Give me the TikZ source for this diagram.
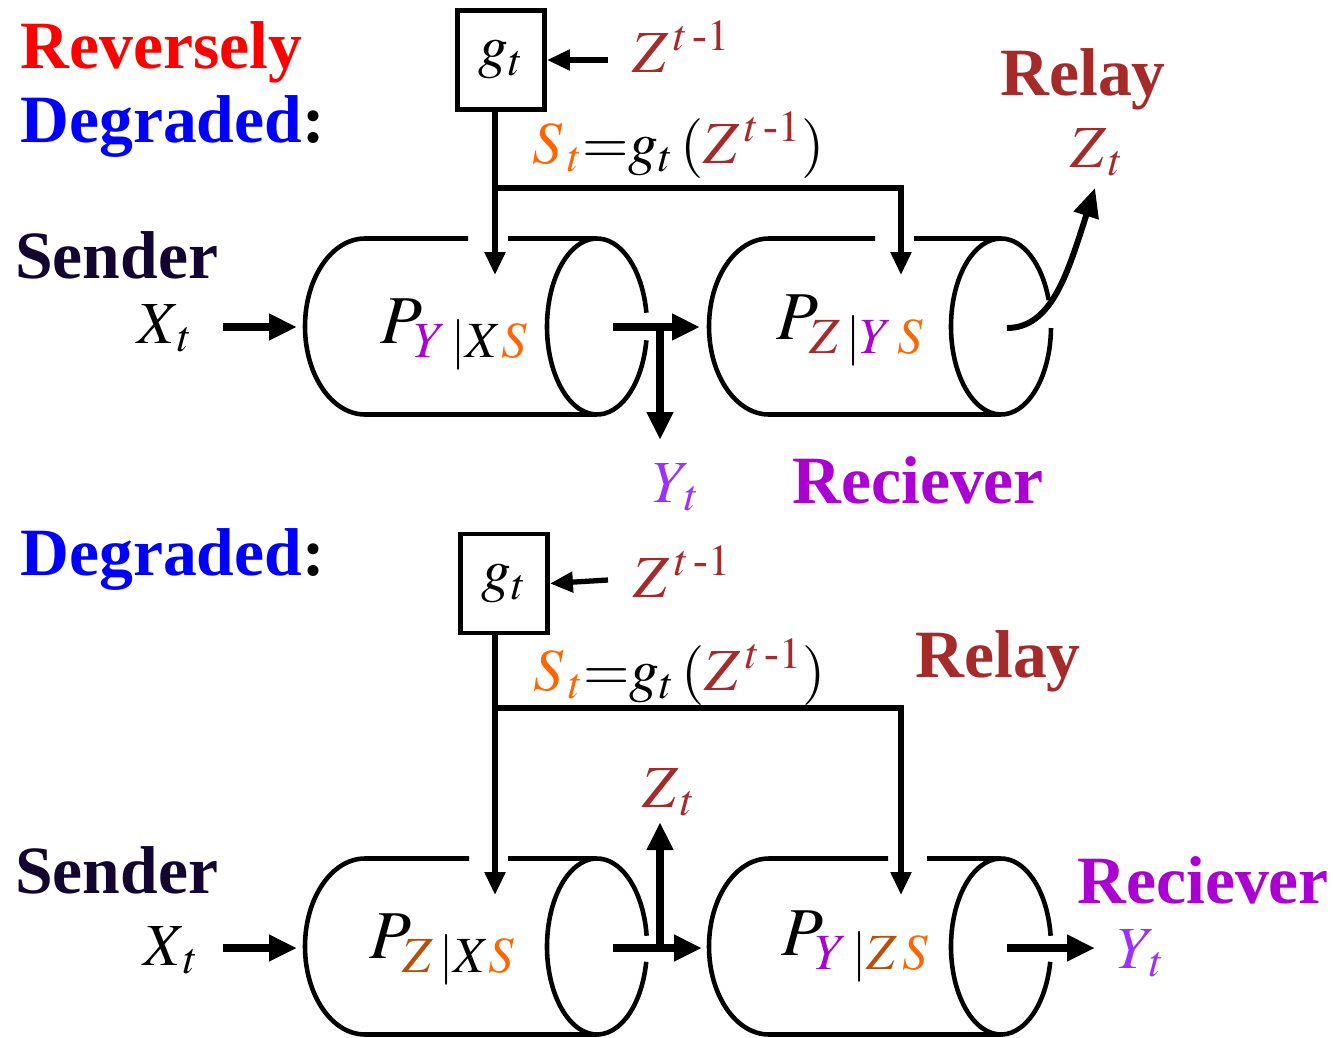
\documentclass[tikz,border=0pt]{standalone}
\usepackage{amsmath}
\usepackage{mathptmx}
\usepackage{fontspec}
\setmainfont{Liberation Serif}
\usepackage{tikz}
\usetikzlibrary{arrows.meta}
\definecolor{degBlue}{RGB}{0,0,255}
\definecolor{relayRed}{RGB}{165,42,42}
\definecolor{recvPurple}{RGB}{170,0,210}
\definecolor{yViolet}{RGB}{155,48,255}
\definecolor{sOrange}{RGB}{255,102,0}
\definecolor{zBrown}{RGB}{185,80,10}
\definecolor{senderInk}{RGB}{20,5,48}

\begin{document}
\begin{tikzpicture}[
        x=0.02cm,y=-0.02cm,
        outline/.style={line width=2.6pt},
        bus/.style={line width=3pt},
        tip/.style={-{Triangle[length=0.46cm,width=0.4cm]}},
        fat/.style={line width=4.2pt,-{Triangle[length=0.56cm,width=0.5cm]}},
        word/.style={inner sep=0pt,anchor=base west,font=\fontsize{38.5}{44}\selectfont\bfseries},
        sym/.style={inner sep=0pt,anchor=base west,font=\fontsize{34}{40}\selectfont},
        plab/.style={inner sep=0pt,anchor=base west,font=\fontsize{39}{44}\selectfont},
        gbox/.style={draw,line width=2.8pt,minimum width=1.74cm,minimum height=1.98cm,inner sep=0pt,font=\fontsize{34}{40}\selectfont}
      ]
        \useasboundingbox (0,0) rectangle (1333,1038);
        % channels
        \foreach \cx/\cy/\ga/\gb/\ea/\eb in {305/326.5/468/508/9/351, 709/326.5/875/914/1/342.5, 305/946.5/469/508/10/353, 709/946.5/888/927/10/353}{
          \draw[outline] (\ga,\cy-88) -- (\cx+60,\cy-88) arc[start angle=270,end angle=90,x radius=60,y radius=88] -- (\cx+292,\cy+88);
          \draw[outline] (\gb,\cy-88) -- (\cx+292,\cy-88);
          \draw[outline] ({\cx+292+50*cos(\ea)},{\cy+88*sin(\ea)}) arc[start angle=\ea,end angle=\eb,x radius=50,y radius=88];
        }
        % top: reversely degraded
        \node[word,text=red] (rev) at (20,68) {Reversely};
        \node[word,text=degBlue] (deg1) at (20,142) {Degraded\textcolor{black}{:}};
        \node[word,text=senderInk] (snd1) at (15,278) {Sender};
        \node[sym] (x1) at (137,343) {$X_{\,t}$};
        \node[gbox] (gt1) at (501,60) {$g_{t}$};
        \node[sym,text=relayRed] (zp1) at (632,72) {$Z^{\,t\,\text{-}1}$};
        \node[sym] (st1) at (532,163) {$\textcolor{sOrange}{S_{\,t}}{=}g_t\,(\textcolor{relayRed}{Z^{\,t\,\text{-}1}})$};
        \node[word,text=relayRed] (rly1) at (1000,95) {Relay};
        \node[sym,text=relayRed] (zt1) at (1070,167) {$Z_{\,t}$};
        \node[sym,text=yViolet] (yt1) at (652,502) {$Y_{\,t}$};
        \node[word,text=recvPurple] (rcv1) at (792,503) {Reciever};
        \node[plab] (p1) at (380,343) {$P_{\textcolor{recvPurple}{Y}\,|X\textcolor{sOrange}{S}}$};
        \node[plab] (p2) at (776,339) {$P_{\textcolor{relayRed}{Z}\,|\textcolor{recvPurple}{Y}\,\textcolor{sOrange}{S}}$};
        \coordinate (zin1) at (608,60);
        \coordinate (j1) at (495,188);
        \coordinate (s1a) at (495,275);
        \coordinate (s1b) at (901,275);
        \coordinate (in1) at (223,327);
        \coordinate (c1w) at (297,327);
        \coordinate (o1) at (613,327);
        \coordinate (t1) at (660,327);
        \coordinate (c2w) at (700,327);
        \coordinate (ytip1) at (660,440);
        \coordinate (o2) at (1007,328);
        \coordinate (ztip1) at (1095,188);
        \draw[bus,tip] (zin1) -- (gt1.east);
        \draw[bus,tip] (gt1.south -| j1) -- (s1a);
        \draw[bus,tip] (j1) -| (s1b);
        \draw[fat] (in1) -- (c1w);
        \draw[fat] (o1) -- (c2w);
        \draw[fat] (t1) -- (ytip1);
        \draw[line width=3.4pt,-{Triangle[length=0.58cm,width=0.5cm]}] (o2) .. controls (1052,328) and (1068,272) .. (ztip1);
        % bottom: degraded
        \node[word,text=degBlue] (deg2) at (20,575) {Degraded\textcolor{black}{:}};
        \node[word,text=senderInk] (snd2) at (15,893) {Sender};
        \node[sym] (x2) at (143,965) {$X_{\,t}$};
        \node[gbox] (gt2) at (504,583.5) {$g_{t}$};
        \node[sym,text=relayRed] (zp2) at (633,597) {$Z^{\,t\,\text{-}1}$};
        \node[sym] (st2) at (533,690) {$\textcolor{sOrange}{S_{\,t}}{=}g_t\,(\textcolor{relayRed}{Z^{\,t\,\text{-}1}})$};
        \node[word,text=relayRed] (rly2) at (915,677) {Relay};
        \node[sym,text=relayRed] (zt2) at (642,807) {$Z_{\,t}$};
        \node[word,text=recvPurple] (rcv2) at (1077,903) {Reciever};
        \node[sym,text=yViolet] (yt2) at (1117,968) {$Y_{\,t}$};
        \node[plab] (p3) at (369,958) {$P_{\textcolor{zBrown}{Z}\,|X\textcolor{sOrange}{S}}$};
        \node[plab] (p4) at (781,955) {$P_{\textcolor{recvPurple}{Y}\,|\textcolor{zBrown}{Z}\,\textcolor{sOrange}{S}}$};
        \coordinate (zin2) at (608,580);
        \coordinate (j2) at (495,708);
        \coordinate (s2a) at (495,895);
        \coordinate (s2b) at (901,895);
        \coordinate (in2) at (223,948);
        \coordinate (c3w) at (297,948);
        \coordinate (o3) at (613,948);
        \coordinate (t3) at (660,948);
        \coordinate (c4w) at (702,948);
        \coordinate (ztip2) at (660,822);
        \coordinate (o4) at (1007,948);
        \coordinate (ytip2) at (1095,948);
        \draw[bus,tip] (zin2) -- (gt2.east);
        \draw[bus,tip] (gt2.south -| j2) -- (s2a);
        \draw[bus,tip] (j2) -| (s2b);
        \draw[fat] (in2) -- (c3w);
        \draw[fat] (o3) -- (c4w);
        \draw[fat] (t3) -- (ztip2);
        \draw[fat] (o4) -- (ytip2);
      \end{tikzpicture}
\end{document}
